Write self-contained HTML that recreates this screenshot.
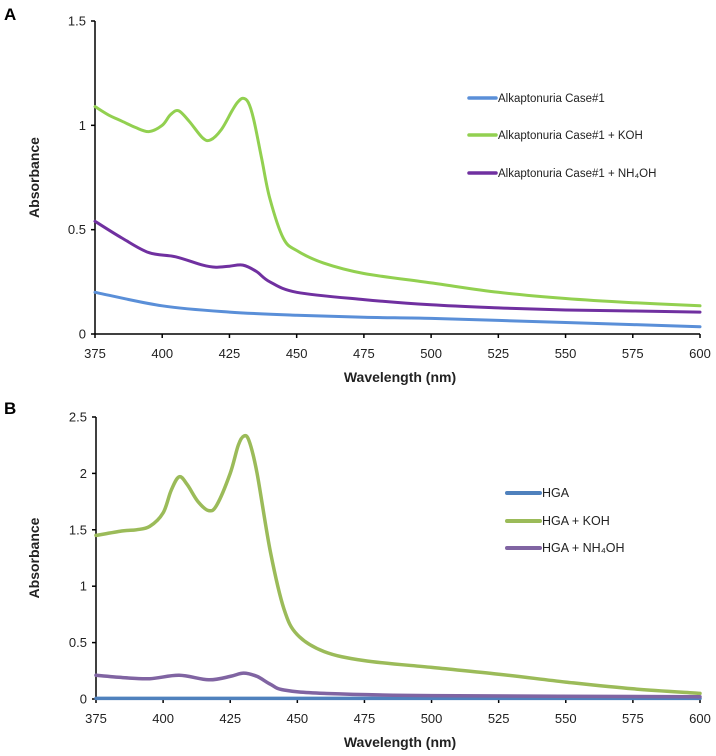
<!DOCTYPE html>
<html><head><meta charset="utf-8">
<style>
html,body{margin:0;padding:0;background:#fff;}
svg{display:block;font-family:"Liberation Sans",sans-serif;}
</style></head>
<body>
<svg id="chart" width="716" height="756" viewBox="0 0 716 756" xmlns="http://www.w3.org/2000/svg"></svg>
<script>
// Shared x data
const xTicks = [375,400,425,450,475,500,525,550,575,600];

// Panel A data
const aYTicks = [0,0.5,1,1.5];
const aYTickLabels = ["0","0.5","1","1.5"];
const aKohX = [375,380,385,390,395,400,403,406,410,415,418,422,426,428,430,432,434,437,440,445,450,460,475,500,525,550,575,600];
const aKohY = [1.09,1.05,1.02,0.99,0.97,1.0,1.05,1.07,1.02,0.94,0.93,0.98,1.07,1.11,1.13,1.11,1.03,0.84,0.65,0.46,0.40,0.34,0.29,0.245,0.20,0.17,0.15,0.135];
const aNhX = [375,385,395,405,415,420,425,430,435,440,450,475,500,525,550,575,600];
const aNhY = [0.54,0.46,0.39,0.37,0.33,0.32,0.325,0.33,0.30,0.25,0.20,0.165,0.14,0.125,0.115,0.11,0.105];
const aBaseX = [375,400,425,450,475,500,525,550,575,600];
const aBaseY = [0.20,0.135,0.105,0.09,0.08,0.075,0.065,0.055,0.045,0.035];
const aLegend = ["Alkaptonuria Case#1","Alkaptonuria Case#1 + KOH","Alkaptonuria Case#1 + NH\u2084OH"];

// Panel B data
const bYTicks = [0,0.5,1,1.5,2,2.5];
const bYTickLabels = ["0","0.5","1","1.5","2","2.5"];
const bKohX = [375,385,390,395,400,403,406,409,413,417,420,425,428,430,432,435,440,445,450,460,475,500,525,550,575,600];
const bKohY = [1.45,1.49,1.50,1.53,1.65,1.85,1.97,1.90,1.75,1.67,1.72,2.0,2.25,2.33,2.29,2.0,1.3,0.8,0.57,0.42,0.34,0.28,0.22,0.15,0.09,0.05];
const bNhX = [375,385,395,406,417,425,430,435,440,445,460,500,600];
const bNhY = [0.21,0.19,0.18,0.21,0.17,0.20,0.23,0.20,0.13,0.08,0.05,0.03,0.02];
const bBaseX = [375,450,525,600];
const bBaseY = [0.005,0.005,0.005,0.005];
const bLegend = ["HGA","HGA + KOH","HGA + NH\u2084OH"];

const NS="http://www.w3.org/2000/svg";
const svg=document.getElementById('chart');
function mk(tag,attrs,parent){const e=document.createElementNS(NS,tag);for(const k in attrs)e.setAttribute(k,attrs[k]);(parent||svg).appendChild(e);return e;}

function smoothPath(px){
  let d="M"+px[0][0].toFixed(1)+","+px[0][1].toFixed(1);
  for(let i=0;i<px.length-1;i++){
    const p0=px[Math.max(0,i-1)],p1=px[i],p2=px[i+1],p3=px[Math.min(px.length-1,i+2)];
    const c1x=p1[0]+(p2[0]-p0[0])/6,c1y=p1[1]+(p2[1]-p0[1])/6;
    const c2x=p2[0]-(p3[0]-p1[0])/6,c2y=p2[1]-(p3[1]-p1[1])/6;
    d+=" C"+c1x.toFixed(1)+","+c1y.toFixed(1)+" "+c2x.toFixed(1)+","+c2y.toFixed(1)+" "+p2[0].toFixed(1)+","+p2[1].toFixed(1);
  }
  return d;
}

function panel(cfg){
  const g=mk('g',{});
  
  
  const xs=v=>cfg.x0+(v-375)/(600-375)*(cfg.x1-cfg.x0);
  const ys=v=>cfg.y0-(v/cfg.ymax)*(cfg.y0-cfg.yTop);
  const L=mk('text',{x:4,y:cfg.letterY,'font-size':17,'font-weight':'bold',fill:'#000'},g);L.textContent=cfg.letter;
  
  const ya=mk('line',{x1:cfg.x0,y1:cfg.yTop,x2:cfg.x0,y2:cfg.y0,stroke:'#000','stroke-width':1.5},g);
  
  cfg.yTicks.forEach((t,i)=>{
    const y=ys(t);
    const tk=mk('line',{x1:cfg.x0-4,y1:y,x2:cfg.x0,y2:y,stroke:'#000','stroke-width':1.5},g);
    
    const tl=mk('text',{x:cfg.x0-9,y:y+4.5,'font-size':13,'text-anchor':'end',fill:'#222'},g);tl.textContent=cfg.yLabels[i];
    
  });
  const xa=mk('line',{x1:cfg.x0,y1:cfg.y0,x2:cfg.x1,y2:cfg.y0,stroke:'#000','stroke-width':1.5},g);
  
  xTicks.forEach(t=>{
    const x=xs(t);
    const tk=mk('line',{x1:x,y1:cfg.y0,x2:x,y2:cfg.y0+4,stroke:'#000','stroke-width':1.5},g);
    
    const tl=mk('text',{x:x,y:cfg.y0+24,'font-size':13,'text-anchor':'middle',fill:'#222'},g);tl.textContent=String(t);
    
  });
  const xt=mk('text',{x:400,y:cfg.y0+48,'font-size':14,'font-weight':'bold','text-anchor':'middle',fill:'#222'},g);xt.textContent="Wavelength (nm)";
  
  const cy=(cfg.yTop+cfg.y0)/2;
  const yt=mk('text',{x:0,y:0,'font-size':14,'font-weight':'bold','text-anchor':'middle',fill:'#222',transform:'translate(39,'+cy+') rotate(-90)'},g);yt.textContent="Absorbance";
  
  cfg.series.forEach((s,i)=>{
    const pts=s.x.map((v,j)=>[xs(v),ys(s.y[j])]);
    const p=mk('path',{d:smoothPath(pts),fill:'none',stroke:s.color,'stroke-width':cfg.lw,'stroke-linejoin':'round','stroke-linecap':'round'},g);
    
    const ly=cfg.legY[i];
    const ll=mk('line',{x1:cfg.legX,y1:ly,x2:cfg.legX+cfg.legLen,y2:ly,stroke:s.color,'stroke-width':cfg.lw+0.5,'stroke-linecap':'round'},g);
    
    const lt=mk('text',{x:cfg.legX+cfg.legLen+2,y:ly+4,'font-size':cfg.legFont,fill:'#222'},g);lt.textContent=cfg.legend[i];
    
  });
}

panel({name:'panel-a',letter:'A',letterY:20,x0:95,x1:700,y0:334,yTop:21,ymax:1.5,yTicks:aYTicks,yLabels:aYTickLabels,lw:3,
  legX:469,legLen:27,legY:[98,135,173],legFont:11.5,legend:aLegend,
  series:[{key:'case',x:aBaseX,y:aBaseY,color:'#5a8fd8'},{key:'koh',x:aKohX,y:aKohY,color:'#92d050'},{key:'nh4oh',x:aNhX,y:aNhY,color:'#7030a0'}]});
panel({name:'panel-b',letter:'B',letterY:414,x0:96,x1:700,y0:699,yTop:417,ymax:2.5,yTicks:bYTicks,yLabels:bYTickLabels,lw:3.5,
  legX:507,legLen:33,legY:[493,521,548],legFont:12.5,legend:bLegend,
  series:[{key:'hga',x:bBaseX,y:bBaseY,color:'#4f81bd'},{key:'koh',x:bKohX,y:bKohY,color:'#9bbb59'},{key:'nh4oh',x:bNhX,y:bNhY,color:'#8064a2'}]});
</script>
</body></html>
